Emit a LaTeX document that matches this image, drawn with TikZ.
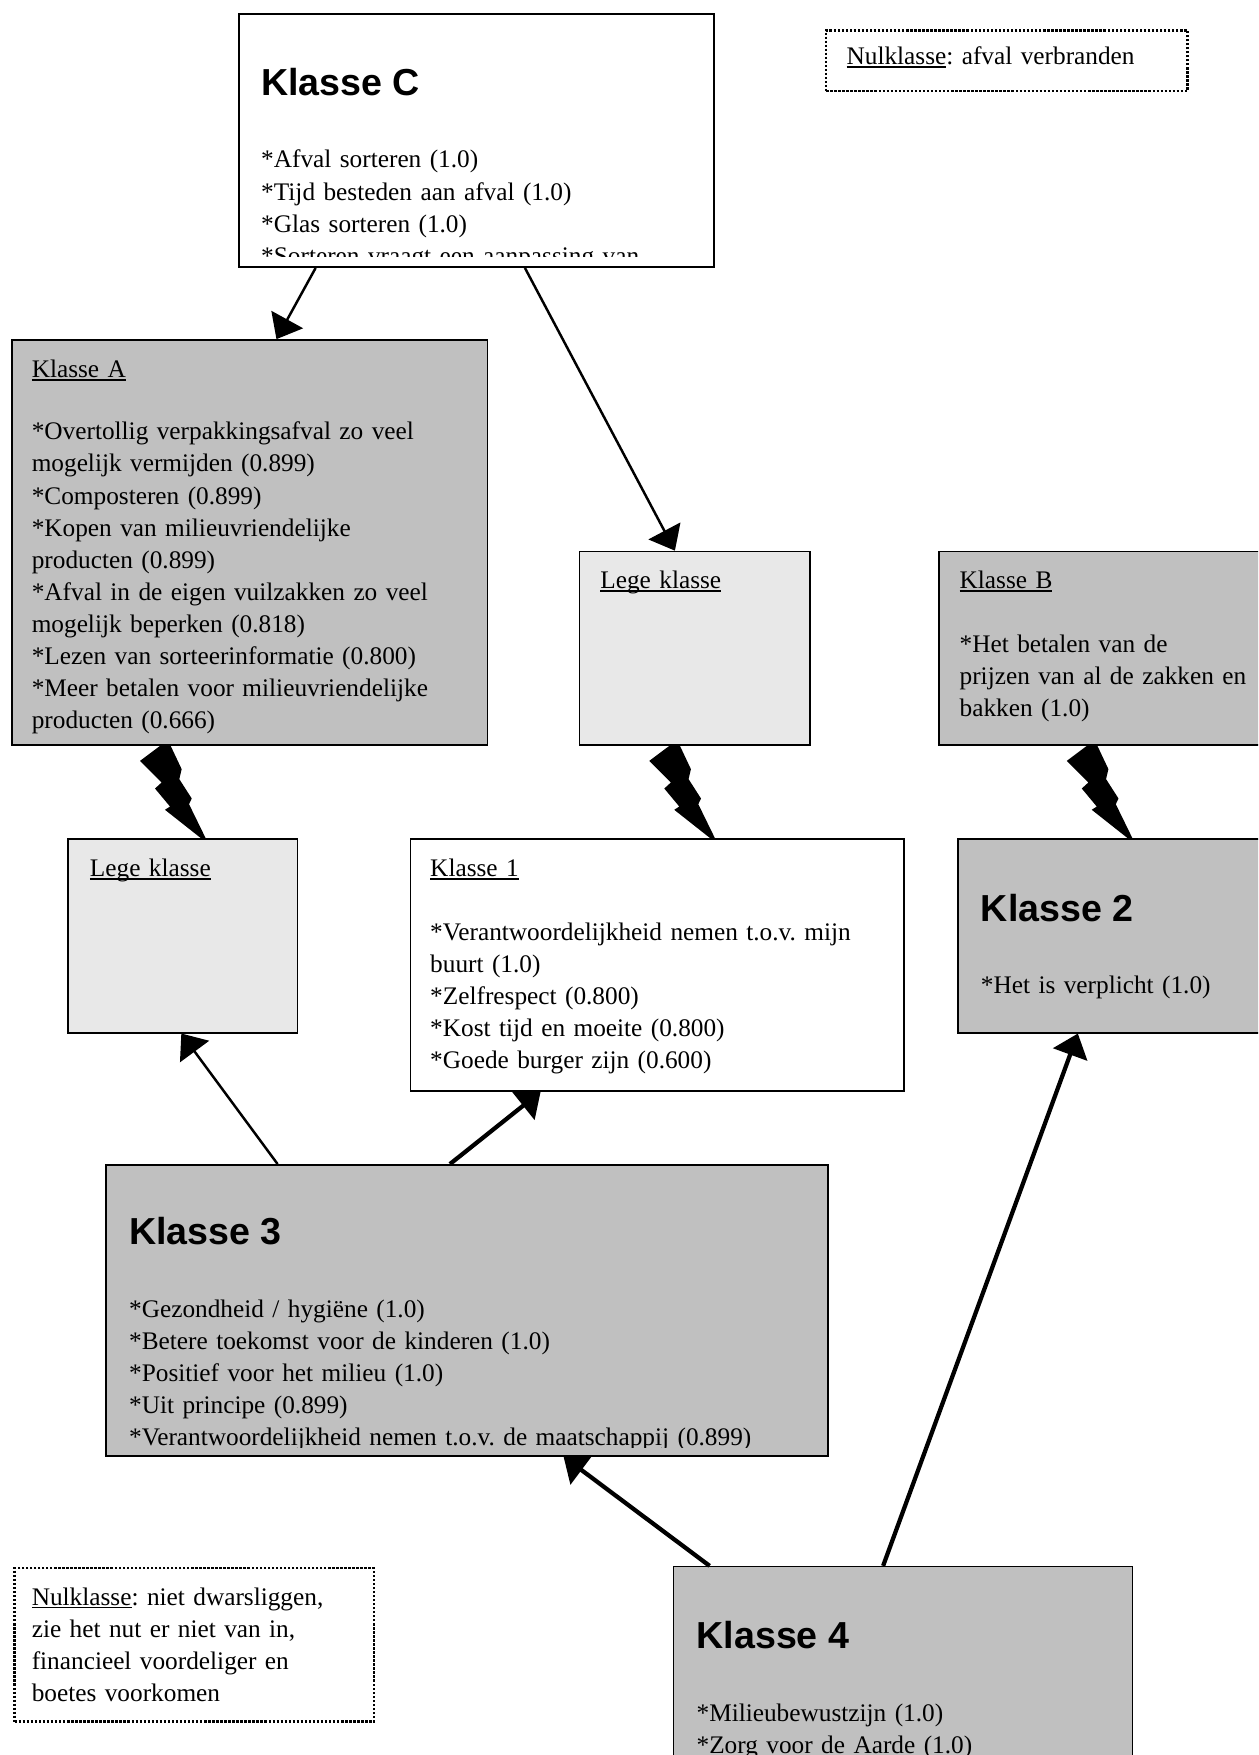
\documentclass[tikz,border=0pt]{standalone}
\usepackage{fontspec}
\setmainfont{Liberation Serif}
\setsansfont{Liberation Sans}
\usetikzlibrary{arrows.meta,calc}
\frenchspacing

\definecolor{boxgray}{HTML}{C0C0C0}
\definecolor{emptygray}{HTML}{E8E8E8}

% underline at a fixed depth, independent of descenders
\newsavebox{\ulbox}
\newcommand{\ulword}[1]{\sbox{\ulbox}{#1}\rlap{\rule[-1.5pt]{\wd\ulbox}{0.8pt}}\usebox{\ulbox}}

\tikzset{
  boxframe/.style={draw=black, line width=0.7pt, rectangle, anchor=north west, inner sep=0pt},
  graybox/.style={boxframe, fill=boxgray},
  palebox/.style={boxframe, fill=emptygray},
  whitebox/.style={boxframe, fill=white},
  notebox/.style={rectangle, anchor=north west, inner sep=0pt, fill=white, draw=black,
                  line width=1.1pt, dash pattern=on 1.1pt off 0.7pt},
  % lines are broken by hand with \\, so natural word spacing is kept
  bodytext/.style={anchor=base west, inner sep=0pt, text width=300pt,
                   font=\fontsize{11.3pt}{14.35pt}\selectfont},
  headtext/.style={anchor=base west, inner sep=0pt,
                   font=\fontsize{16.8pt}{20pt}\selectfont\sffamily\bfseries},
  thinlink/.style={line width=1.1pt, -{Triangle[length=10pt,width=16pt]}},
  thicklink/.style={line width=1.9pt, -{Triangle[length=10pt,width=16pt]}},
  bolt/.pic={\fill (0,0) -- (9.5,0) -- (19.3,20.8) -- (17.2,29.7) -- (28.3,47) -- (25.9,52.1)
              -- (41,83) -- (37.2,83) -- (4.4,57.1) -- (8.9,54.2) -- (-4.5,38.1) -- (1.4,32.7)
              -- (-17.9,13.4) -- cycle;}
}

\begin{document}
\begin{tikzpicture}[x=0.5pt,y=-0.5pt]
\clip (0,0) rectangle (1124,1568);
\fill[white] (0,0) rectangle (1124,1568);

% ---- boxes ----
\node[whitebox, minimum width=212pt, minimum height=113pt] (boxC) at (213,12) {};
\node[notebox, minimum width=161.5pt, minimum height=27pt] (nulTop) at (737,26) {};
\node[graybox, minimum width=212.5pt, minimum height=181pt] (boxA) at (10,303) {};
\node[palebox, minimum width=103pt, minimum height=86.5pt] (legeMid) at (517,492) {};
\node[graybox, minimum width=151pt, minimum height=86.5pt] (boxB) at (838,492) {};
\node[palebox, minimum width=102.5pt, minimum height=86.5pt] (legeLeft) at (60,749) {};
\node[whitebox, minimum width=220.5pt, minimum height=112.5pt] (box1) at (366,749) {};
\node[graybox, minimum width=142.5pt, minimum height=86.5pt] (box2) at (855,749) {};
\node[graybox, minimum width=322.5pt, minimum height=130pt] (box3) at (94,1040) {};
\node[graybox, minimum width=205pt, minimum height=100.5pt] (box4) at (601,1399) {};
\node[notebox, minimum width=160.5pt, minimum height=68.5pt] (nulBottom) at (12,1400) {};

% ---- texts ----
\node[headtext] (titleC) at (233,85) {Klasse C};
\begin{scope}
  \clip (boxC.north west) rectangle ($(boxC.south east)+(0,-10)$);
  \node[bodytext] (textC) at (233,150) {*Afval sorteren (1.0)\\{}
    *Tijd besteden aan afval (1.0)\\{}
    *Glas sorteren (1.0)\\{}
    *Sorteren vraagt een aanpassing van};
\end{scope}

\node[bodytext] (textNulTop) at (756,58) {\ulword{Nulklasse}: afval verbranden};

\node[bodytext] (titleA) at (28,337.5) {\ulword{Klasse A}};
\node[bodytext] (textA) at (28,393) {*Overtollig verpakkingsafval zo veel\\
  mogelijk vermijden (0.899)\\{}
  *Composteren (0.899)\\{}
  *Kopen van milieuvriendelijke\\
  producten (0.899)\\{}
  *Afval in de eigen vuilzakken zo veel\\
  mogelijk beperken (0.818)\\{}
  *Lezen van sorteerinformatie (0.800)\\{}
  *Meer betalen voor milieuvriendelijke\\
  producten (0.666)};

\node[bodytext] (titleLegeMid) at (536,526) {\ulword{Lege klasse}};

\node[bodytext] (titleB) at (857,526) {\ulword{Klasse B}};
\node[bodytext] (textB) at (857,583) {*Het betalen van de\\
  prijzen van al de zakken en\\
  bakken (1.0)};

\node[bodytext] (titleLegeLeft) at (80,783) {\ulword{Lege klasse}};

\node[bodytext] (title1) at (384,783) {\ulword{Klasse 1}};
\node[bodytext] (text1) at (384,840) {*Verantwoordelijkheid nemen t.o.v. mijn\\
  buurt (1.0)\\{}
  *Zelfrespect (0.800)\\{}
  *Kost tijd en moeite (0.800)\\{}
  *Goede burger zijn (0.600)};

\node[headtext] (title2) at (876,823) {Klasse 2};
\node[bodytext] (text2) at (876,888) {*Het is verplicht (1.0)};

\node[headtext] (title3) at (115,1112) {Klasse 3};
\begin{scope}
  \clip (box3.north west) rectangle ($(box3.south east)+(0,-8)$);
  \node[bodytext] (text3) at (115,1177) {*Gezondheid / hygiëne (1.0)\\{}
    *Betere toekomst voor de kinderen (1.0)\\{}
    *Positief voor het milieu (1.0)\\{}
    *Uit principe (0.899)\\{}
    *Verantwoordelijkheid nemen t.o.v. de maatschappij (0.899)};
\end{scope}

\node[headtext] (title4) at (622,1473) {Klasse 4};
\node[bodytext] (text4) at (622,1538) {*Milieubewustzijn (1.0)\\{}
  *Zorg voor de Aarde (1.0)};

\node[bodytext] (textNulBottom) at (28,1434) {\ulword{Nulklasse}: niet dwarsliggen,\\
  zie het nut er niet van in,\\
  financieel voordeliger en\\
  boetes voorkomen};

% ---- arrows ----
\draw[thinlink] ($(boxC.south west)+(69,0)$) -- ($(boxA.north west)+(237,0)$);
\draw[thinlink] ($(boxC.south west)+(256,0)$) -- ($(legeMid.north west)+(86,0)$);
\draw[thinlink] ($(box3.north west)+(154,0)$) -- ($(legeLeft.south west)+(102,0)$);
\draw[thicklink] ($(box3.north west)+(308,0)$) -- ($(box1.south west)+(117,0)$);
\draw[thicklink] ($(box4.north west)+(33,0)$) -- ($(box3.south west)+(409.5,0)$);
\draw[thicklink] ($(box4.north west)+(188,0)$) -- ($(box2.south west)+(108,0)$);

% ---- lightning bolts ----
\pic at ($(boxA.south west)+(133,0)$) {bolt};
\pic at ($(legeMid.south west)+(81,0)$) {bolt};
\pic at ($(boxB.south west)+(133,0)$) {bolt};
\end{tikzpicture}
\end{document}
